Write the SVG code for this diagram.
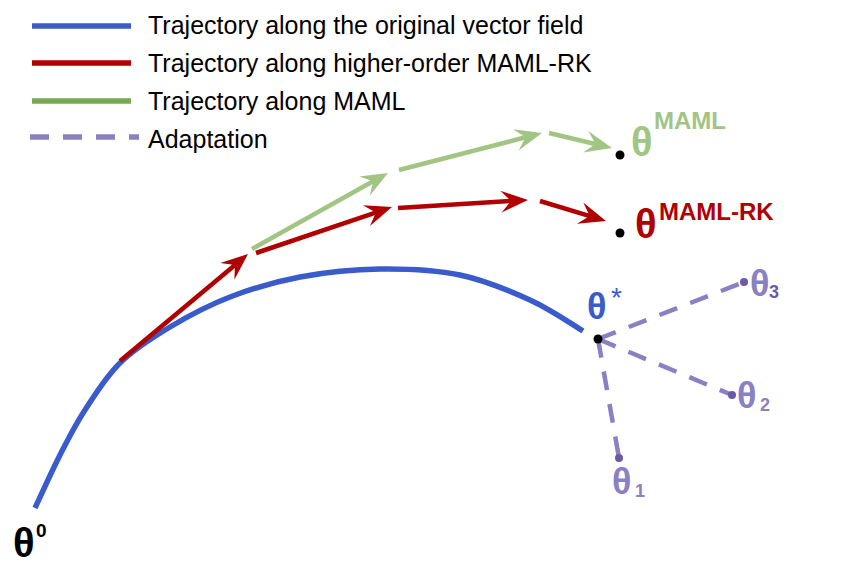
<svg xmlns="http://www.w3.org/2000/svg" width="850" height="579" viewBox="0 0 850 579">
<style>
.lg{font-family:"Liberation Sans",Arial,sans-serif;font-size:25px;fill:#000}
.th{font-family:"Liberation Sans",Arial,sans-serif;font-weight:bold}
.blue{stroke:#3a5bcc;fill:none;stroke-width:5.5}
.red{stroke:#b00000;fill:none;stroke-width:4.5}
.green{stroke:#a2c584;fill:none;stroke-width:4.5}
.dash{stroke:#8a80c4;fill:none;stroke-width:4.5;stroke-dasharray:19 14}
.pdot{fill:#6b5aa8}
</style>
<defs>
<marker id="ar" markerUnits="userSpaceOnUse" markerWidth="28" markerHeight="22" refX="12" refY="11" orient="auto" overflow="visible">
<path d="M0,0 L27,11 L0,22 L10,11 z" fill="#b00000"/>
</marker>
<marker id="ag" markerUnits="userSpaceOnUse" markerWidth="28" markerHeight="22" refX="12" refY="11" orient="auto" overflow="visible">
<path d="M0,0 L27,11 L0,22 L10,11 z" fill="#a2c584"/>
</marker>
</defs>
<g id="legend">
<line x1="32" y1="26" x2="131" y2="26" stroke="#3a5bcc" stroke-width="5.5"/>
<line x1="32" y1="63" x2="131" y2="63" stroke="#b00000" stroke-width="5.5"/>
<line x1="32" y1="101" x2="131" y2="101" stroke="#77a852" stroke-width="5.5"/>
<line x1="30" y1="137" x2="139" y2="137" stroke="#8a80c4" stroke-width="5.5" stroke-dasharray="19 14"/>
<text class="lg" x="148" y="34">Trajectory along the original vector field</text>
<text class="lg" x="148" y="72">Trajectory along higher-order MAML-RK</text>
<text class="lg" x="148" y="110">Trajectory along MAML</text>
<text class="lg" x="148" y="148">Adaptation</text>
</g>
<g id="connectors">
<path id="blue-traj" class="blue" d="M35,508 C39.2,499.2 51.7,471.3 60,455 C68.3,438.7 75,425.3 85,410 C95,394.7 105.8,376.8 120,363 C134.2,349.2 151.7,338 170,327 C188.3,316 208.3,305.3 230,297 C251.7,288.7 275,281.7 300,277 C325,272.3 353.3,269.3 380,269 C406.7,268.7 435,269.8 460,275 C485,280.2 509.5,290.7 530,300 C550.5,309.3 574.2,325.8 583,331"/>
<line class="red" x1="120" y1="361" x2="236.5" y2="263.7" marker-end="url(#ar)"/>
<line class="red" x1="256" y1="253" x2="377.8" y2="211.8" marker-end="url(#ar)"/>
<line class="red" x1="398" y1="208" x2="513" y2="200.9" marker-end="url(#ar)"/>
<line class="red" x1="540" y1="201" x2="591.6" y2="216.6" marker-end="url(#ar)"/>
<line class="green" x1="252" y1="249" x2="374.9" y2="180.3" marker-end="url(#ag)"/>
<line class="green" x1="399" y1="170" x2="527.5" y2="136.8" marker-end="url(#ag)"/>
<line class="green" x1="549" y1="133" x2="597.4" y2="144.5" marker-end="url(#ag)"/>
<line class="dash" x1="598" y1="339" x2="744" y2="282"/>
<line class="dash" x1="598" y1="339" x2="732" y2="395"/>
<line class="dash" x1="598" y1="339" x2="619" y2="458"/>
</g>
<g id="theta0">
<text class="th" x="13" y="557" font-size="40" fill="#000">θ</text>
<text class="th" x="36" y="537" font-size="19" fill="#000">0</text>
</g>
<g id="theta-maml">
<circle cx="620" cy="155" r="4.5" fill="#000"/>
<text class="th" x="631" y="156" font-size="40" fill="#a2c584">θ</text>
<text class="th" x="654" y="129" font-size="24" fill="#a2c584">MAML</text>
</g>
<g id="theta-mamlrk">
<circle cx="620" cy="233" r="4.5" fill="#000"/>
<text class="th" x="635" y="238" font-size="40" fill="#b00000">θ</text>
<text class="th" x="659" y="220" font-size="24" fill="#b00000">MAML-RK</text>
</g>
<g id="theta-star">
<circle cx="598" cy="339" r="4.5" fill="#000"/>
<text class="th" x="587" y="319" font-size="36" fill="#3a5bcc">θ</text>
<text x="611" y="307" font-size="28" font-family="Liberation Sans,Arial,sans-serif" fill="#3a5bcc">*</text>
</g>
<g id="theta3">
<circle class="pdot" cx="744" cy="282" r="4"/>
<text class="th" x="750" y="296" font-size="36" fill="#8a80c4">θ</text>
<text class="th" x="769" y="298" font-size="18" fill="#6b5aa8">3</text>
</g>
<g id="theta2">
<circle class="pdot" cx="732" cy="395" r="4"/>
<text class="th" x="737" y="408" font-size="36" fill="#8a80c4">θ</text>
<text class="th" x="760" y="411" font-size="18" fill="#8a80c4">2</text>
</g>
<g id="theta1">
<circle class="pdot" cx="619" cy="458" r="4"/>
<text class="th" x="612" y="494" font-size="36" fill="#8a80c4">θ</text>
<text class="th" x="635" y="497" font-size="18" fill="#8a80c4">1</text>
</g>
</svg>
